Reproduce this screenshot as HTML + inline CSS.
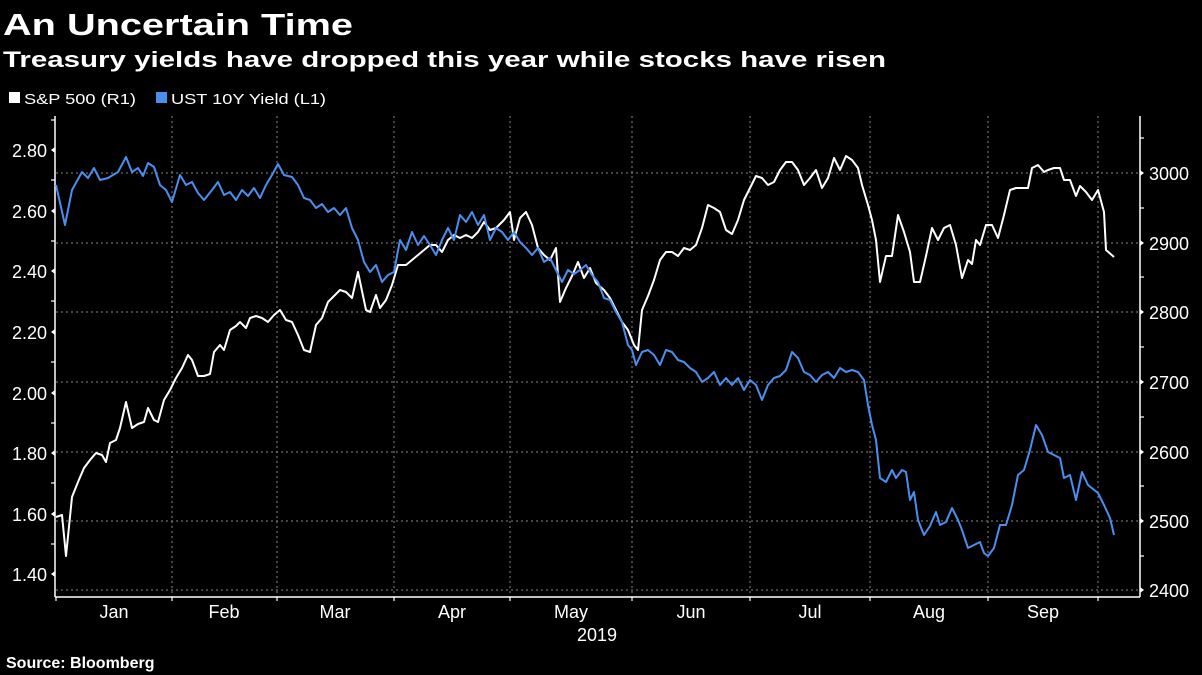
<!DOCTYPE html>
<html><head><meta charset="utf-8"><style>
html,body{margin:0;padding:0;background:#000;width:1202px;height:675px;overflow:hidden}
svg text{font-family:"Liberation Sans","DejaVu Sans",sans-serif;fill:#fff}
</style></head><body>
<svg width="1202" height="675" viewBox="0 0 1202 675" xmlns="http://www.w3.org/2000/svg">
<text x="3" y="35" font-size="31" font-weight="bold" textLength="350" lengthAdjust="spacingAndGlyphs">An Uncertain Time</text>
<text x="3" y="67" font-size="22" font-weight="bold" textLength="883" lengthAdjust="spacingAndGlyphs">Treasury yields have dropped this year while stocks have risen</text>
<rect x="9" y="92" width="11" height="11" fill="#fff"/>
<text x="24" y="104" font-size="15" textLength="112" lengthAdjust="spacingAndGlyphs">S&amp;P 500 (R1)</text>
<rect x="156" y="92" width="11" height="11" fill="#4a8ff0"/>
<text x="171" y="104" font-size="15" textLength="155" lengthAdjust="spacingAndGlyphs">UST 10Y Yield (L1)</text>
<g stroke="#888" stroke-dasharray="2,3" stroke-width="1">
<line x1="56" y1="173" x2="1140" y2="173"/><line x1="56" y1="243" x2="1140" y2="243"/>
<line x1="56" y1="312" x2="1140" y2="312"/><line x1="56" y1="382" x2="1140" y2="382"/>
<line x1="56" y1="452" x2="1140" y2="452"/><line x1="56" y1="521" x2="1140" y2="521"/>
<line x1="56" y1="590" x2="1140" y2="590"/>
<line x1="172" y1="116" x2="172" y2="597"/><line x1="277" y1="116" x2="277" y2="597"/>
<line x1="394" y1="116" x2="394" y2="597"/><line x1="510" y1="116" x2="510" y2="597"/>
<line x1="632" y1="116" x2="632" y2="597"/><line x1="750" y1="116" x2="750" y2="597"/>
<line x1="870" y1="116" x2="870" y2="597"/><line x1="988" y1="116" x2="988" y2="597"/>
<line x1="1098" y1="116" x2="1098" y2="597"/>
</g>
<g stroke="#fff" stroke-width="1.5" fill="none">
<line x1="55" y1="116" x2="55" y2="597"/><line x1="55" y1="597" x2="1140" y2="597"/>
<line x1="1140" y1="116" x2="1140" y2="597"/>
</g>
<g stroke="#fff" stroke-width="1.2">
<line x1="51" y1="120" x2="55" y2="120"/><line x1="51" y1="180" x2="55" y2="180"/><line x1="51" y1="241" x2="55" y2="241"/><line x1="51" y1="301" x2="55" y2="301"/><line x1="51" y1="362" x2="55" y2="362"/><line x1="51" y1="423" x2="55" y2="423"/><line x1="51" y1="483" x2="55" y2="483"/><line x1="51" y1="544" x2="55" y2="544"/>
<line x1="1140" y1="138" x2="1144" y2="138"/><line x1="1140" y1="208" x2="1144" y2="208"/><line x1="1140" y1="277" x2="1144" y2="277"/><line x1="1140" y1="347" x2="1144" y2="347"/><line x1="1140" y1="417" x2="1144" y2="417"/><line x1="1140" y1="486" x2="1144" y2="486"/><line x1="1140" y1="556" x2="1144" y2="556"/>
<line x1="56" y1="597" x2="56" y2="601"/><line x1="172" y1="597" x2="172" y2="601"/><line x1="277" y1="597" x2="277" y2="601"/><line x1="394" y1="597" x2="394" y2="601"/><line x1="510" y1="597" x2="510" y2="601"/><line x1="632" y1="597" x2="632" y2="601"/><line x1="750" y1="597" x2="750" y2="601"/><line x1="870" y1="597" x2="870" y2="601"/><line x1="988" y1="597" x2="988" y2="601"/><line x1="1098" y1="597" x2="1098" y2="601"/>
</g>
<g fill="#fff">
<path d="M51 150 l4 -3 v6z"/><path d="M51 211 l4 -3 v6z"/><path d="M51 271 l4 -3 v6z"/><path d="M51 332 l4 -3 v6z"/><path d="M51 393 l4 -3 v6z"/><path d="M51 453 l4 -3 v6z"/><path d="M51 514 l4 -3 v6z"/><path d="M51 574 l4 -3 v6z"/>
<path d="M1144 173 l-4 -3 v6z"/><path d="M1144 243 l-4 -3 v6z"/><path d="M1144 312 l-4 -3 v6z"/><path d="M1144 382 l-4 -3 v6z"/><path d="M1144 452 l-4 -3 v6z"/><path d="M1144 521 l-4 -3 v6z"/><path d="M1144 590 l-4 -3 v6z"/>
</g>
<g font-size="18" text-anchor="end">
<text x="47" y="157">2.80</text><text x="47" y="218">2.60</text><text x="47" y="278">2.40</text><text x="47" y="339">2.20</text><text x="47" y="400">2.00</text><text x="47" y="460">1.80</text><text x="47" y="521">1.60</text><text x="47" y="581">1.40</text>
</g>
<g font-size="18">
<text x="1149" y="180">3000</text><text x="1149" y="250">2900</text><text x="1149" y="319">2800</text><text x="1149" y="389">2700</text><text x="1149" y="459">2600</text><text x="1149" y="528">2500</text><text x="1149" y="597">2400</text>
</g>
<g font-size="18" text-anchor="middle">
<text x="114" y="618">Jan</text><text x="224" y="618">Feb</text><text x="335" y="618">Mar</text><text x="452" y="618">Apr</text><text x="571" y="618">May</text><text x="691" y="618">Jun</text><text x="810" y="618">Jul</text><text x="929" y="618">Aug</text><text x="1043" y="618">Sep</text>
<text x="597" y="641">2019</text>
</g>
<text x="6" y="668" font-size="16" font-weight="bold">Source: Bloomberg</text>
<polyline fill="none" stroke="#fff" stroke-width="2" stroke-linejoin="round" points="56,517 62,515 66,556 72,497 78,482 84,468 90,460 96,453 102,455 106,462 110,443 116,440 120,428 126,402 132,428 138,424 144,422 148,408 154,420 158,422 164,400 170,390 176,378 182,368 188,355 192,360 198,376 204,376 210,374 214,352 220,345 224,350 230,330 236,326 240,322 246,328 250,318 256,316 262,318 268,322 274,315 280,310 286,320 292,322 298,335 304,350 310,352 316,325 322,318 328,302 334,296 340,290 346,292 352,298 358,272 366,310 370,312 376,295 380,308 386,300 392,285 398,265 406,265 412,260 418,255 424,250 430,245 436,245 442,252 448,240 454,235 460,238 466,235 472,238 478,232 484,222 490,230 496,228 504,220 510,212 514,240 520,218 526,212 532,225 538,248 544,255 550,260 556,248 560,302 566,288 572,276 578,262 584,278 590,268 596,283 604,290 610,298 616,310 622,322 628,330 634,345 638,350 642,310 648,296 654,280 660,260 666,252 672,252 678,256 684,248 690,250 696,245 702,228 708,205 714,208 720,212 726,230 732,234 738,220 744,200 750,188 756,176 762,178 768,185 774,182 780,170 786,162 792,162 798,170 804,185 810,178 816,170 822,188 828,178 834,158 840,170 846,156 852,160 858,168 862,185 868,205 872,220 876,240 880,282 886,256 892,256 898,215 904,232 910,252 914,282 920,282 926,256 932,228 938,240 944,228 950,225 956,245 962,278 968,260 972,264 976,240 980,245 986,225 992,225 998,238 1004,215 1010,190 1016,188 1022,188 1028,188 1032,168 1038,165 1044,172 1048,170 1054,168 1060,168 1064,180 1070,180 1076,196 1080,186 1086,192 1092,200 1098,190 1104,212 1106,250 1114,257"/>
<polyline fill="none" stroke="#4a8ff0" stroke-width="2" stroke-linejoin="round" points="56,185 65,225 72,190 82,172 88,178 94,168 100,180 108,178 118,172 126,157 132,172 138,168 143,176 148,163 154,167 160,185 166,190 172,202 180,175 186,185 192,182 198,193 204,200 212,190 218,182 224,195 230,192 236,200 242,190 248,196 254,188 260,198 266,185 272,175 278,164 284,175 292,177 298,185 304,198 310,200 316,208 322,204 328,212 334,208 340,215 346,208 352,228 358,240 364,262 370,272 376,265 382,282 388,275 394,272 400,240 406,250 412,232 418,245 424,236 430,245 436,255 442,240 448,228 454,240 460,215 466,222 472,212 478,225 484,215 490,240 496,228 502,232 508,240 514,232 520,242 526,248 532,255 538,248 544,262 550,258 556,270 562,282 568,270 574,274 580,270 586,265 592,275 598,282 604,298 610,300 616,312 622,322 628,345 632,350 636,365 642,352 648,350 654,355 660,365 666,350 672,352 678,360 684,362 690,368 696,372 702,382 708,378 714,372 720,385 726,378 732,385 738,378 744,390 750,380 756,385 762,400 768,385 774,378 780,376 786,370 792,352 798,358 804,372 810,375 816,382 822,375 828,372 834,378 840,368 846,372 852,370 858,372 864,380 868,405 872,425 876,440 880,478 886,482 892,470 896,478 902,470 906,472 910,500 914,492 918,520 924,535 930,526 936,512 940,525 946,522 952,508 958,520 962,530 968,548 974,545 980,542 984,553 988,556 994,548 1000,525 1006,525 1012,505 1018,475 1024,470 1030,450 1036,425 1042,435 1048,452 1054,455 1060,458 1064,478 1070,475 1076,500 1082,472 1088,485 1098,493 1104,505 1110,518 1114,535"/>
</svg>
</body></html>
